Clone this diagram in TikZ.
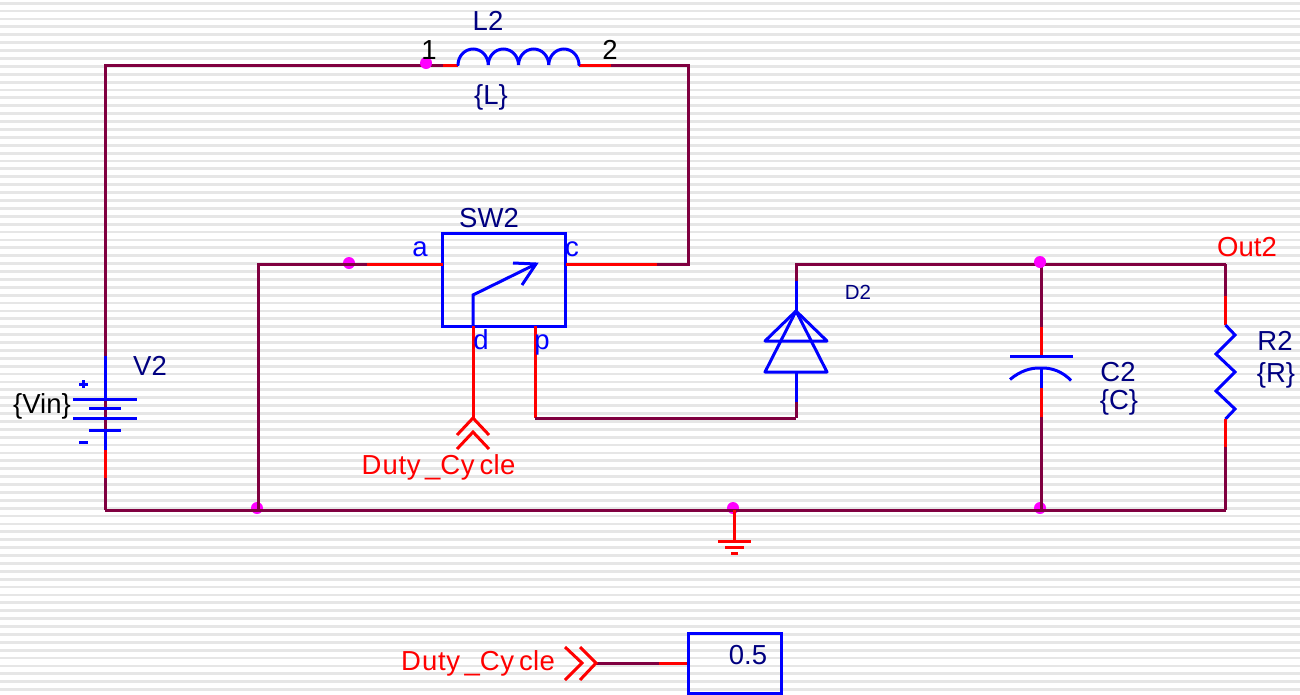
\documentclass[tikz,border=0pt]{standalone}
\usepackage{fontspec}
\setmainfont{Liberation Sans}
\definecolor{wire}{HTML}{800040}
\definecolor{pin}{HTML}{FF0000}
\definecolor{part}{HTML}{0000FF}
\definecolor{lbl}{HTML}{000080}
\definecolor{dotc}{HTML}{FF00FF}
\definecolor{stripe}{HTML}{E6E6E6}
\newcommand{\dutytext}{D\kern1.2pt u\kern.6pt t\kern.6pt y\kern4.5pt\_C\kern.6pt y\kern5pt c\kern.3pt l\kern.3pt e}
\tikzset{
  wirel/.style={draw=wire,line width=3pt,line cap=butt,line join=miter},
  pinl/.style={draw=pin,line width=3pt,line cap=butt,line join=miter},
  partl/.style={draw=part,line width=3pt,line cap=butt,line join=miter},
  dotn/.style={circle,fill=dotc,inner sep=0pt,minimum size=12pt},
  txt/.style={inner sep=0pt,font=\fontsize{27.5}{27.5}\selectfont},
  navy/.style={txt,text=lbl},
  bluet/.style={txt,text=part},
  redt/.style={txt,text=pin},
  blackt/.style={txt,text=black},
}
\begin{document}
\begin{tikzpicture}[x=1pt,y=-1pt]
\useasboundingbox (0,0) rectangle (1300,694);
\fill[white] (0,0) rectangle (1300,694);
\foreach \k in {0,...,87} {
  \fill[stripe] (0,{1.8+\k*7.89}) rectangle (1300,{4.6+\k*7.89});
}
% dots that lie under their wires
\node[dotn] (j2) at (349,263) {};
\node[dotn] (j3) at (257,508) {};
\node[dotn] (j4) at (733,508) {};
\node[dotn] (j6) at (1040,508) {};
% corner and junction coordinates
\coordinate (tl) at (105,65);
\coordinate (tr) at (688,65);
\coordinate (bl) at (105,510);
\coordinate (br) at (1225.5,510);
\coordinate (cr) at (688,264);
\coordinate (al) at (258,264);
\coordinate (ab) at (258,510);
\coordinate (w1) at (443,65);
\coordinate (l1) at (458,65);
\coordinate (l2) at (579,65);
\coordinate (w2) at (611,65);
\coordinate (w3) at (367,264);
\coordinate (w4) at (657,264);
\coordinate (sa) at (443,264);
\coordinate (sc) at (566,264);
% switch
\node[draw=part,line width=3pt,minimum width=123pt,minimum height=93pt,inner sep=0pt] (sw) at (504,279.5) {};
\coordinate (sd) at (473,326);
\coordinate (sp) at (535,326);
\coordinate (sk) at (473,295);
\coordinate (sh) at (536,264);
\coordinate (sb1) at (513,263);
\coordinate (sb2) at (522,285);
\coordinate (dd) at (473,418);
\coordinate (pb) at (535,418);
\coordinate (dk) at (796,418);
% wires
\draw[wirel] (bl) -- (tl) -- (w1);
\draw[wirel] (w2) -- (tr) -- (cr) -- (w4);
\draw[wirel] (w3) -- (al) -- (ab);
\draw[wirel] (bl) -- (br);
\draw[pinl] (w1) -- (l1);
\draw[pinl] (l2) -- (w2);
\draw[pinl] (w3) -- (sa);
\draw[pinl] (w4) -- (sc);
\draw[partl] (sd) -- (sk) -- (sh);
\draw[partl] (sb1) -- (sh) -- (sb2);
\draw[pinl] (sd) -- (dd);
\draw[pinl] (sp) -- (pb);
\draw[wirel] (pb) -- (dk);
% duty chevrons at switch
\coordinate (c1) at (473,418);
\coordinate (c1a) at (457,435);
\coordinate (c1b) at (489,435);
\coordinate (c2) at (473,432);
\coordinate (c2a) at (457,449);
\coordinate (c2b) at (489,449);
\draw[pinl] (c1a) -- (c1) -- (c1b);
\draw[pinl] (c2a) -- (c2) -- (c2b);
% inductor
\draw[partl,line cap=round] (l1) arc[start angle=180,end angle=0,x radius=15.125pt,y radius=16pt]
  arc[start angle=180,end angle=0,x radius=15.125pt,y radius=16pt]
  arc[start angle=180,end angle=0,x radius=15.125pt,y radius=16pt]
  arc[start angle=180,end angle=0,x radius=15.125pt,y radius=16pt];
% battery
\coordinate (v1) at (105,356);
\coordinate (v2) at (105,399.5);
\coordinate (v3) at (105,430);
\coordinate (v4) at (105,450);
\coordinate (v5) at (105,478);
\draw[partl] (v1) -- (v2);
\draw[partl] (v3) -- (v4);
\draw[pinl] (v4) -- (v5);
\draw[partl] (73,399.5) -- (137,399.5);
\draw[partl] (89,408.7) -- (121,408.7);
\draw[partl] (73,418) -- (137,418);
\draw[partl] (89,430) -- (121,430);
\draw[partl] (79,384) -- (88,384);
\draw[partl] (83.5,380) -- (83.5,388);
\draw[partl] (79,442.5) -- (88,442.5);
% diode
\coordinate (d0) at (796,264);
\coordinate (d1) at (796,281);
\coordinate (d2) at (796,311);
\coordinate (d3) at (796,372);
\coordinate (d4) at (796,402);
\draw[wirel] (dk) -- (d4);
\draw[wirel] (d1) -- (d0) -- (1225.5,264);
\draw[partl] (d1) -- (d2);
\draw[partl] (d3) -- (d4);
\draw[partl,line join=round] (d2) -- (765,372) -- (827,372) -- cycle;
\draw[partl,line join=round] (d2) -- (765,341) -- (827,341) -- cycle;
% capacitor
\coordinate (k0) at (1041,264);
\coordinate (k1) at (1041,327);
\coordinate (k2) at (1041,356.5);
\coordinate (k3) at (1041,368);
\coordinate (k4) at (1041,388);
\coordinate (k5) at (1041,417);
\coordinate (k6) at (1041,510);
\draw[wirel] (k0) -- (k1);
\draw[pinl] (k1) -- (k2);
\draw[partl] (1010,356.5) -- (1073,356.5);
\draw[partl] (1010,379.5) .. controls (1020,371) and (1031,367.5) .. (k3) .. controls (1052,367.5) and (1063,372) .. (1071,380.5);
\draw[partl] (k3) -- (k4);
\draw[pinl] (k4) -- (k5);
\draw[wirel] (k5) -- (k6);
% resistor
\coordinate (r0) at (1225.5,264);
\coordinate (r1) at (1225.5,296);
\coordinate (r2) at (1225.5,325);
\coordinate (r3) at (1225.5,419);
\coordinate (r4) at (1225.5,447);
\draw[wirel] (r0) -- (r1);
\draw[pinl] (r1) -- (r2);
\draw[partl] (r2) -- (1235,335) -- (1216,354) -- (1235,372) -- (1216,391) -- (1235,409) -- (r3);
\draw[pinl] (r3) -- (r4);
\draw[wirel] (r4) -- (br);
% ground
\coordinate (g0) at (734,510);
\coordinate (g1) at (734,541);
\draw[pinl] (g0) -- (g1);
\draw[pinl] (718,541) -- (751,541);
\draw[pinl] (725,547) -- (744,547);
\draw[pinl] (731,553) -- (738,553);
% constant block
\node[draw=part,line width=3pt,minimum width=93pt,minimum height=60pt,inner sep=0pt] (cst) at (734.5,663) {};
\coordinate (q0) at (596,663);
\coordinate (q1) at (659,663);
\draw[wirel] (q0) -- (q1);
\draw[pinl] (q1) -- (cst.west);
\draw[pinl] (580,647) -- (q0) -- (580,680);
\draw[pinl] (565,647) -- (582,663) -- (565,680);
% dots on top of their wires
\node[dotn] (j1) at (426,63) {};
\node[dotn] (j5) at (1040,262) {};
% labels
\node[navy] (tL2) at (488,21) {L2};
\node[navy] (tL) at (491,97) {\{L\}};
\node[blackt] (t1) at (429,50) {1};
\node[blackt] (t2) at (610,50) {2};
\node[navy] (tSW) at (489,218) {SW2};
\node[bluet] (ta) at (420,249) {a};
\node[bluet] (tc) at (572,249) {c};
\node[bluet] (td) at (481,340) {d};
\node[bluet] (tp) at (542,345) {p};
\node[redt] (tduty1) at (438.5,467) {\dutytext};
\node[redt] (tduty2) at (478,663) {\dutytext};
\node[navy] (tV2) at (150,366) {V2};
\node[blackt] (tVin) at (42,406) {\{Vin\}};
\node[navy,font=\fontsize{20.5}{20.5}\selectfont] (tD2) at (858,292) {D2};
\node[navy] (tC2) at (1118,372.5) {C2};
\node[navy] (tC) at (1119,402) {\{C\}};
\node[navy] (tR2) at (1275,341) {R2};
\node[navy] (tR) at (1276,375) {\{R\}};
\node[redt] (tOut) at (1247,247) {Out2};
\node[navy] (tval) at (748,655) {0.5};
\end{tikzpicture}
\end{document}
